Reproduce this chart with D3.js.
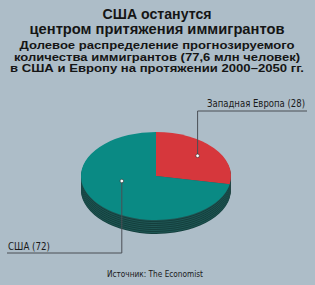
<!DOCTYPE html>
<html>
<head>
<meta charset="utf-8">
<script src="https://cdn.jsdelivr.net/npm/d3@7"></script>
<style>
  body { margin: 0; background: #adbdc8; }
  svg { display: block; font-family: "Liberation Sans", Arial, sans-serif; }
  .narrow { font-family: "Liberation Sans Narrow", "Arial Narrow", "DejaVu Sans Condensed", sans-serif; }
</style>
</head>
<body>
<div id="chart"></div>
<script>
// data
const categories = ["Западная Европа", "США"];
const values = [28, 72];
const titleLines = ["США останутся", "центром притяжения иммигрантов"];
const subtitleLines = [
  "Долевое распределение прогнозируемого",
  "количества иммигрантов (77,6 млн человек)",
  "в США и Европу на протяжении 2000–2050 гг."
];
const source = "Источник: The Economist";

// globals
const width = 315, height = 285;
const cx = 156, cy = 176, rx = 75, ry = 44, depth = 14;
const topColors = ["#d6373c", "#0a8a84"];
const sideColors = ["#2c5553", "#1f5654"];
const sideColors2 = ["#1d3b3a", "#143f3d"];

let svg = d3.select('#chart')
  .append('svg')
  .attr('width', width)
  .attr('height', height);

svg.append('rect')
  .attr('width', width)
  .attr('height', height)
  .attr('fill', '#adbdc8');

// titles
let titleY = [19, 34];
let titleW = [109, 255];
svg.selectAll('text.title')
  .data(titleLines)
  .enter()
  .append('text')
  .attr('class', 'title')
  .attr('x', 157)
  .attr('y', (d, i) => titleY[i])
  .attr('text-anchor', 'middle')
  .attr('font-size', 14.5)
  .attr('font-weight', 'bold')
  .attr('fill', '#151515')
  .attr('textLength', (d, i) => titleW[i])
  .attr('lengthAdjust', 'spacingAndGlyphs')
  .text(d => d);

let subY = [49, 60.5, 72];
let subW = [275, 286, 294];
svg.selectAll('text.sub')
  .data(subtitleLines)
  .enter()
  .append('text')
  .attr('class', 'sub')
  .attr('x', 157)
  .attr('y', (d, i) => subY[i])
  .attr('text-anchor', 'middle')
  .attr('font-size', 11.5)
  .attr('font-weight', 'bold')
  .attr('fill', '#151515')
  .attr('textLength', (d, i) => subW[i])
  .attr('lengthAdjust', 'spacingAndGlyphs')
  .text(d => d);

// pie
let pie = d3.pie().sort(null).startAngle(0).endAngle(2 * Math.PI);
let arcs = pie(values);
let arc = d3.arc().innerRadius(0).outerRadius(rx);

// side (stacked layers give the banded look)
for (let k = depth; k >= 1; k--) {
  let layer = svg.append('g')
    .attr('transform', `translate(${cx},${cy + k}) scale(1,${ry / rx})`);
  layer.selectAll('path')
    .data(arcs)
    .enter()
    .append('path')
    .attr('d', arc)
    .attr('fill', (d, i) => (k % 2 == 0 ? sideColors2[i] : sideColors[i]));
}

// top face
let topFace = svg.append('g')
  .attr('transform', `translate(${cx},${cy}) scale(1,${ry / rx})`);
topFace.selectAll('path')
  .data(arcs)
  .enter()
  .append('path')
  .attr('d', arc)
  .attr('fill', (d, i) => topColors[i]);

// labels with leader lines
let labelArc = [
  d3.arc().innerRadius(rx * 0.72).outerRadius(rx * 0.72),
  d3.arc().innerRadius(rx * 0.47).outerRadius(rx * 0.47)
];
let anchorAngle = [null, 256 * Math.PI / 180];
let dots = arcs.map((d, i) => {
  let a = anchorAngle[i] == null ? (d.startAngle + d.endAngle) / 2 : anchorAngle[i];
  let c = labelArc[i].centroid({ startAngle: a, endAngle: a });
  return [cx + c[0], cy + c[1] * ry / rx];
});

let lineY = [111, 253];
let lineEnd = [307, 7];
let textX = [305, 8];
let textAnchor = ['end', 'start'];
let textY = [107, 250];
let textW = [98, 42];

arcs.forEach((d, i) => {
  let p = dots[i];
  svg.append('polyline')
    .attr('points', [[p[0], p[1]], [p[0], lineY[i]], [lineEnd[i], lineY[i]]].map(q => q.join(',')).join(' '))
    .attr('fill', 'none')
    .attr('stroke', '#4a4f55')
    .attr('stroke-width', 1);
  svg.append('circle')
    .attr('cx', p[0])
    .attr('cy', p[1])
    .attr('r', 1.8)
    .attr('fill', 'white')
    .attr('stroke', '#333')
    .attr('stroke-width', 0.6);
  svg.append('text')
    .attr('class', 'narrow')
    .attr('x', textX[i])
    .attr('y', textY[i])
    .attr('text-anchor', textAnchor[i])
    .attr('font-size', 11)
    .attr('fill', '#1a1a1a')
    .attr('textLength', textW[i])
    .attr('lengthAdjust', 'spacingAndGlyphs')
    .text(categories[i] + ' (' + values[i] + ')');
});

// source
svg.append('text')
  .attr('class', 'narrow')
  .attr('x', 107)
  .attr('y', 277)
  .attr('font-size', 9.5)
  .attr('fill', '#1a1a1a')
  .attr('textLength', 96)
  .attr('lengthAdjust', 'spacingAndGlyphs')
  .text(source);
</script>
</body>
</html>
